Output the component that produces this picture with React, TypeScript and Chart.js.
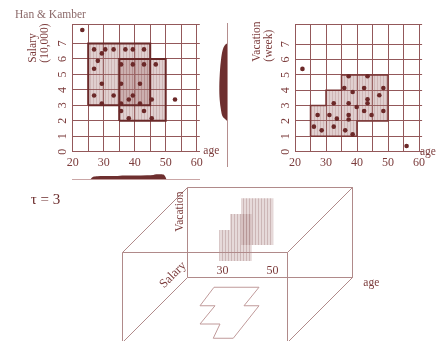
import React, { useEffect, useRef } from 'react';
import { Chart, registerables } from 'chart.js';

Chart.register(...registerables);

const SERIF = '"Liberation Serif", "Times New Roman", serif';

// ---------------- data ----------------
const ageGrid = [20, 25, 30, 35, 40, 45, 50, 55, 60];
const ageTickLabels = [20, 30, 40, 50, 60];
const levelTickLabels = [0, 1, 2, 3, 4, 5, 6, 7];

// Salary (10,000) vs age
const salaryAges = [23.1, 26.9, 30.5, 33.2, 37.0, 39.4, 43.0, 29.4, 28.1, 26.9, 35.6, 39.4, 43.0, 46.8, 29.4, 35.6, 41.7, 26.9, 33.2, 39.4, 38.1, 45.5, 53.0, 29.4, 35.6, 41.7, 35.6, 43.0, 38.1, 45.5];
const salaryValues = [7.87, 6.62, 6.62, 6.62, 6.62, 6.62, 6.62, 6.36, 5.88, 5.37, 5.65, 5.65, 5.65, 5.65, 4.4, 4.4, 4.4, 3.64, 3.64, 3.64, 3.38, 3.38, 3.38, 3.12, 3.12, 3.12, 2.63, 2.63, 2.16, 2.16];
const denseBoxAgeFrom = [25, 35];
const denseBoxAgeTo = [45, 50];
const denseBoxSalaryFrom = [3, 2];
const denseBoxSalaryTo = [7, 6];

// Vacation (week) vs age
const vacationAges = [22.4, 56.0, 37.3, 43.4, 35.9, 42.3, 48.5, 38.6, 47.2, 43.4, 43.4, 32.5, 37.3, 39.9, 42.3, 48.5, 27.3, 31.1, 37.3, 44.7, 33.5, 37.3, 26.1, 32.5, 28.6, 36.2, 38.6];
const vacationValues = [5.39, 0.37, 4.91, 4.91, 4.15, 4.15, 4.15, 3.89, 3.67, 3.41, 3.15, 3.15, 3.15, 2.91, 2.65, 2.65, 2.39, 2.39, 2.39, 2.39, 2.15, 2.1, 1.63, 1.63, 1.39, 1.39, 1.13];
const denseRegionAges = [25, 25, 30, 30, 35, 35, 50, 50, 40, 40, 25];
const denseRegionVacations = [1, 3, 3, 4, 4, 5, 5, 2, 2, 1, 1];

// marginal densities (relative, peak = 1)
const ageDensityAges = [25.6, 26.5, 28, 32, 34.5, 36, 40, 44, 46, 47, 48.5, 49.5, 50.3];
const ageDensity = [0, 0.49, 0.62, 0.64, 0.66, 0.75, 0.77, 0.81, 0.87, 1.0, 0.98, 0.85, 0];
const salaryDensityLevels = [1.99, 2.05, 2.27, 2.7, 3.35, 4.2, 5.3, 5.94, 6.58, 6.9, 7.02];
const salaryDensity = [0, 0.16, 0.58, 0.79, 0.95, 1.0, 0.91, 0.79, 0.58, 0.29, 0];

// 3-D sketch, in age-axis diagram units
const cubeAgeRange = [16, 82];
const cubeHeight = 36;
const cubeDepth = 26;
const cubeAgeTicks = [30, 50];
const slabAgeFrom = [28.7, 33, 37.4];
const slabAgeTo = [33, 41.7, 50.3];
const slabLow = [6.6, 6.6, 13];
const slabHigh = [19, 25.4, 31.7];
const footprintAges = [26.6, 21, 27, 21, 29, 26.3, 34.3, 44.6, 38.6, 44.6, 26.6];
const footprintLevels = [-3.9, -11.3, -11.3, -18.6, -18.6, -24.3, -24.3, -11.3, -11.3, -3.9, -3.9];

// ---------------- styles ----------------
const GRID = '#93585a';
const DARK = '#6b2828';
const TEXT = '#7b3b3b';
const EDGE = '#b08a8a';

type Pt = { x: number; y: number };
const zip = (xs: number[], ys: number[]): Pt[] => xs.map((x, i) => ({ x, y: ys[i] }));
const rect = (x0: number, x1: number, y0: number, y1: number): Pt[] => [
  { x: x0, y: y0 }, { x: x0, y: y1 }, { x: x1, y: y1 }, { x: x1, y: y0 }, { x: x0, y: y0 },
];

function stripes(base: string, line: string, period = 3) {
  const c = document.createElement('canvas');
  c.width = period;
  c.height = 4;
  const g = c.getContext('2d')!;
  g.fillStyle = base;
  g.fillRect(0, 0, period, 4);
  g.fillStyle = line;
  g.fillRect(0, 0, 1, 4);
  return g.createPattern(c, 'repeat')!;
}

const polyLayer = (polys: { pts: Pt[]; fill: any }[]) => ({
  id: 'polyLayer',
  beforeDatasetsDraw(chart: any) {
    const { ctx, scales } = chart;
    const sx = scales.x, sy = scales.y;
    ctx.save();
    for (const p of polys) {
      ctx.beginPath();
      p.pts.forEach((pt, i) => {
        const px = sx.getPixelForValue(pt.x);
        const py = sy.getPixelForValue(pt.y);
        if (i === 0) ctx.moveTo(px, py); else ctx.lineTo(px, py);
      });
      ctx.closePath();
      ctx.fillStyle = p.fill;
      ctx.fill();
    }
    ctx.restore();
  },
});

type TextItem = { text: string; x: number; y: number; data?: boolean; rot?: number; size?: number; align?: CanvasTextAlign; color?: string };
const textLayer = (items: TextItem[]) => ({
  id: 'textLayer',
  afterDraw(chart: any) {
    const { ctx, scales } = chart;
    for (const t of items) {
      const px = t.data ? scales.x.getPixelForValue(t.x) : t.x;
      const py = t.data ? scales.y.getPixelForValue(t.y) : t.y;
      ctx.save();
      ctx.translate(px, py);
      ctx.rotate(((t.rot || 0) * Math.PI) / 180);
      ctx.font = `${t.size || 11.5}px ${SERIF}`;
      ctx.fillStyle = t.color || TEXT;
      ctx.textAlign = t.align || 'left';
      ctx.textBaseline = 'middle';
      ctx.fillText(t.text, 0, 0);
      ctx.restore();
    }
  },
});

const baseOptions = {
  responsive: false,
  animation: false as const,
  events: [] as any[],
  plugins: { legend: { display: false }, tooltip: { enabled: false } },
};

function gridScatterOptions(cfg: {
  yMax: number; yWidth: number; xHeight: number; yPad: number; padding: any;
}) {
  const yTicks = [...levelTickLabels, cfg.yMax];
  return {
    ...baseOptions,
    layout: { padding: cfg.padding },
    scales: {
      x: {
        type: 'linear', min: 20, max: 61,
        afterBuildTicks: (s: any) => { s.ticks = ageGrid.map((v) => ({ value: v })); },
        afterFit: (s: any) => { s.height = cfg.xHeight; },
        grid: { color: GRID, lineWidth: 1, drawTicks: false },
        border: { color: GRID, width: 1 },
        ticks: {
          autoSkip: false, maxRotation: 0, padding: 4, color: TEXT,
          font: { family: SERIF, size: 12 },
          callback: (v: number) => (ageTickLabels.includes(v) ? String(v) : ''),
        },
      },
      y: {
        type: 'linear', min: 0, max: cfg.yMax,
        afterBuildTicks: (s: any) => { s.ticks = yTicks.map((v) => ({ value: v })); },
        afterFit: (s: any) => { s.width = cfg.yWidth; },
        grid: { color: GRID, lineWidth: 1, drawTicks: false },
        border: { color: GRID, width: 1 },
        ticks: {
          autoSkip: false, minRotation: 90, maxRotation: 90, crossAlign: 'center', padding: cfg.yPad,
          color: TEXT, font: { family: SERIF, size: 12 },
          callback: (v: number) => (levelTickLabels.includes(v) ? String(v) : ''),
        },
      },
    },
  };
}

function salaryConfig() {
  const fill = stripes('rgba(165,115,115,0.34)', 'rgba(140,85,85,0.22)');
  const boxes = denseBoxAgeFrom.map((a, i) => rect(a, denseBoxAgeTo[i], denseBoxSalaryFrom[i], denseBoxSalaryTo[i]));
  return {
    type: 'scatter',
    data: {
      datasets: [
        { data: zip(salaryAges, salaryValues), pointRadius: 2.3, backgroundColor: DARK, borderWidth: 0, order: 0 },
        ...boxes.map((b) => ({
          data: b, showLine: true, borderColor: '#6a2828', borderWidth: 2, pointRadius: 0,
          borderJoinStyle: 'miter', order: 1,
        })),
      ],
    },
    options: gridScatterOptions({ yMax: 8.25, yWidth: 72.7, xHeight: 24.3, yPad: 6.4, padding: { top: 24.2, right: 22.2, left: 0, bottom: 0 } }),
    plugins: [
      polyLayer(boxes.map((b) => ({ pts: b, fill }))),
      textLayer([
        { text: 'Han & Kamber', x: 15, y: 15, color: '#8c6a6a' },
        { text: 'Salary', x: 32.5, y: 62.7, rot: -90 },
        { text: '(10,000)', x: 45, y: 62.7, rot: -90 },
        { text: 'age', x: 203.3, y: 150.7 },
      ]),
    ],
  };
}

function vacationConfig() {
  const fill = stripes('rgba(165,115,115,0.34)', 'rgba(140,85,85,0.22)');
  const region = zip(denseRegionAges, denseRegionVacations);
  return {
    type: 'scatter',
    data: {
      datasets: [
        { data: zip(vacationAges, vacationValues), pointRadius: 2.3, backgroundColor: DARK, borderWidth: 0, order: 0 },
        { data: region, showLine: true, borderColor: '#7a3535', borderWidth: 1.5, pointRadius: 0, borderJoinStyle: 'miter', order: 1 },
      ],
    },
    options: gridScatterOptions({ yMax: 8.3, yWidth: 65, xHeight: 23.3, yPad: 6, padding: { top: 24.2, right: 15.9, left: 0, bottom: 0 } }),
    plugins: [
      polyLayer([{ pts: region, fill }]),
      textLayer([
        { text: 'Vacation', x: 27, y: 61.7, rot: -90 },
        { text: '(week)', x: 39, y: 61.7, rot: -90 },
        { text: 'age', x: 190, y: 151.7 },
      ]),
    ],
  };
}

function ageDensityConfig() {
  return {
    type: 'line',
    data: {
      datasets: [{
        data: zip(ageDensityAges, ageDensity), fill: 'origin', backgroundColor: '#6e2f2f',
        borderWidth: 0, pointRadius: 0, tension: 0.35,
      }],
    },
    options: {
      ...baseOptions,
      layout: { padding: { left: 72.7, right: 22.2, top: 5, bottom: 2.5 } },
      scales: {
        x: {
          type: 'linear', min: 20, max: 61,
          ticks: { display: false }, grid: { display: false }, border: { color: '#caa6a6', width: 1 },
          afterFit: (s: any) => { s.height = 0; },
        },
        y: { type: 'linear', min: 0, max: 2.74, display: false },
      },
    },
  };
}

function salaryDensityConfig() {
  return {
    type: 'line',
    data: {
      datasets: [{
        data: zip(salaryDensity, salaryDensityLevels), fill: 'origin', backgroundColor: '#6e2f2f',
        borderWidth: 0, pointRadius: 0, tension: 0.35,
      }],
    },
    options: {
      ...baseOptions,
      indexAxis: 'y',
      layout: { padding: { left: 5, right: 2.7, top: 23.3, bottom: 9 } },
      scales: {
        x: { type: 'linear', min: 0, max: 2.79, reverse: true, display: false },
        y: {
          type: 'linear', min: -0.93, max: 8.31, position: 'right',
          ticks: { display: false }, grid: { display: false }, border: { color: '#b58e8e', width: 1 },
          afterFit: (s: any) => { s.width = 0; },
        },
      },
    },
  };
}

function cubeConfig() {
  const [a0, a1] = cubeAgeRange;
  const h = cubeHeight;
  const d = cubeDepth;
  const seg = (p: number[][]) => p.map(([x, y]) => ({ x, y }));
  const edges = [
    seg([[a0, 0], [a0, h], [a1, h], [a1, 0], [a0, 0]]), // back face
    seg([[a0 - d, -d], [a0 - d, h - d], [a1 - d, h - d], [a1 - d, -d], [a0 - d, -d]]), // front face
    seg([[a0, h], [a0 - d, h - d]]),
    seg([[a1, h], [a1 - d, h - d]]),
    seg([[a1, 0], [a1 - d, -d]]),
    seg([[a0, 0], [a0 - d, -d]]),
  ];
  const slabFill = stripes('rgba(190,155,155,0.38)', 'rgba(150,105,105,0.32)', 3);
  const slabs = slabAgeFrom.map((f, i) => ({ pts: rect(f, slabAgeTo[i], slabLow[i], slabHigh[i]), fill: slabFill }));
  return {
    type: 'scatter',
    data: {
      datasets: [
        ...edges.map((e) => ({ data: e, showLine: true, borderColor: EDGE, borderWidth: 1, pointRadius: 0 })),
        { data: zip(footprintAges, footprintLevels), showLine: true, borderColor: '#c09a9a', borderWidth: 1, pointRadius: 0 },
      ],
    },
    options: {
      ...baseOptions,
      layout: { padding: 0 },
      scales: {
        x: { type: 'linear', min: -59, max: 116.2, display: false },
        y: { type: 'linear', min: -25.4, max: 39, display: false },
      },
    },
    plugins: [
      polyLayer(slabs),
      textLayer([
        { text: 'τ = 3', x: 30.7, y: 20, size: 15, color: '#6b2b2b' },
        { text: 'Vacation', x: 180, y: 31.7, rot: -90, align: 'center' },
        { text: 'Salary', x: 173, y: 95, rot: -45, align: 'center', size: 12.5 },
        { text: 'age', x: 363.3, y: 102.7 },
        ...cubeAgeTicks.map((v) => ({ text: String(v), x: v, y: 2.7, data: true, align: 'center' as CanvasTextAlign, size: 12 })),
      ]),
    ],
  };
}

function ChartBox({ left, top, width, height, make }: { left: number; top: number; width: number; height: number; make: () => any }) {
  const ref = useRef<HTMLCanvasElement | null>(null);
  useEffect(() => {
    const chart = new Chart(ref.current as HTMLCanvasElement, make());
    return () => chart.destroy();
  }, []);
  return (
    <canvas
      ref={ref}
      width={width}
      height={height}
      style={{ position: 'absolute', left, top, width, height }}
    />
  );
}

export default function App() {
  return (
    <div style={{ position: 'absolute', left: 0, top: 0, width: 438, height: 341, background: '#fff', overflow: 'hidden' }}>
      <ChartBox left={0} top={180} width={438} height={161} make={cubeConfig} />
      <ChartBox left={0} top={160} width={222} height={22} make={ageDensityConfig} />
      <ChartBox left={200} top={0} width={30} height={175} make={salaryDensityConfig} />
      <ChartBox left={0} top={0} width={222} height={176} make={salaryConfig} />
      <ChartBox left={230} top={0} width={208} height={175} make={vacationConfig} />
    </div>
  );
}
